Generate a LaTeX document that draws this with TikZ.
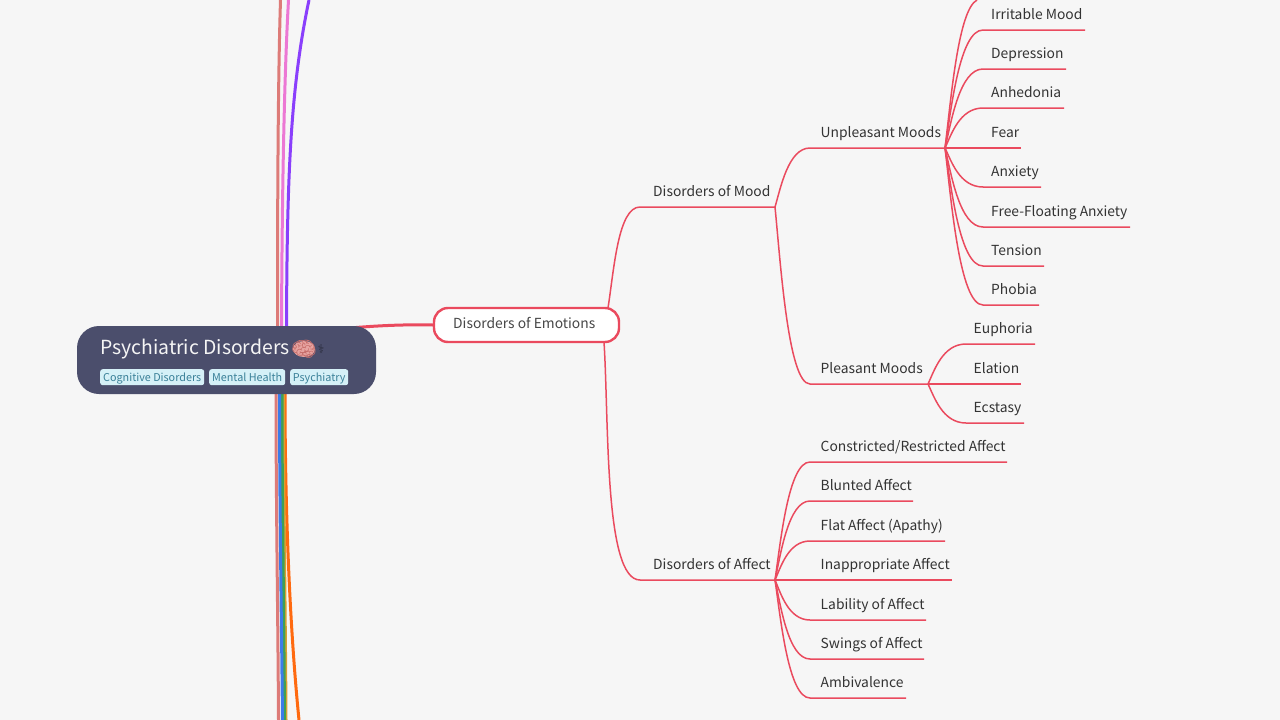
\documentclass[tikz,border=0pt]{standalone}
\usepackage{fontspec}
\setmainfont{Noto Sans CJK SC}
\newfontfamily\emojifont{Noto Emoji}
\newfontfamily\symfont{DejaVu Sans}
\usetikzlibrary{calc}
\definecolor{bgc}{HTML}{F6F6F6}
\definecolor{redc}{HTML}{EA4A5E}
\definecolor{rootc}{HTML}{4B4E6C}
\definecolor{tagfill}{HTML}{D5F0F7}
\definecolor{tagtext}{HTML}{3A8098}
\definecolor{txt}{HTML}{333333}
\definecolor{salmonc}{HTML}{DD7B78}
\definecolor{pinkc}{HTML}{EC78D4}
\definecolor{purplec}{HTML}{8A3FFC}
\definecolor{bluec}{HTML}{3D7BE8}
\definecolor{greenc}{HTML}{3FA055}
\definecolor{goldc}{HTML}{D9A030}
\definecolor{orangec}{HTML}{FF6A10}
\tikzset{
  x=1pt,y=-1pt,
  leafbox/.style={anchor=base west,inner sep=0pt,text=txt,font=\fontsize{13.85}{16}\selectfont},
  branchline/.style={draw=redc,line width=1.5pt},
  bgline/.style={line width=3pt,line cap=butt},
  tagbox/.style={fill=tagfill,rounded corners=2.5pt,anchor=north west,inner sep=0pt,text=tagtext,font=\fontsize{10.8}{13}\selectfont,minimum height=16pt,text height=9.5pt,text depth=1.5pt,align=center},
}
% \leaf{name}{parent coordinate}{line start x}{text x}{line end x}{line y}{text}
\newcommand{\leaf}[7]{%
  \node[leafbox] (#1) at (#4,#6-10.2) {#7};
  \coordinate (#1s) at (#3,#6);
  \coordinate (#1e) at (#5,#6);
  \draw[branchline] let \p1=(#2), \p2=(#1s) in
    (#2) .. controls ({\x1+0.16*(\x2-\x1)},{\y1+0.32*(\y2-\y1)}) and ({\x1+0.38*(\x2-\x1)},{\y2}) .. (#1s) -- (#1e);
}
\begin{document}
\begin{tikzpicture}
\useasboundingbox[fill=bgc] (0,0) rectangle (1280,720);

% connector ends running off the picture
\coordinate (salmonT) at (280.5,0);
\coordinate (pinkT) at (288.5,0);
\coordinate (purpleT) at (309,0);
\coordinate (salmonB) at (278.5,720);
\coordinate (blueB) at (282.5,720);
\coordinate (greenB) at (284.5,720);
\coordinate (goldB) at (286,720);
\coordinate (orangeB) at (299,720);

\draw[bgline,salmonc] (277.5,330) .. controls (277.5,200) and (278,80) .. (salmonT);
\draw[bgline,pinkc] (281.5,330) .. controls (282,200) and (284,80) .. (pinkT);
\draw[bgline,purplec] (286.5,330) .. controls (287,180) and (290,90) .. (purpleT);
\draw[bgline,orangec] (285,392) .. controls (285,500) and (289,620) .. (orangeB);
\draw[bgline,goldc] (283.5,392) .. controls (283.5,500) and (285.5,620) .. (goldB);
\draw[bgline,greenc] (282,392) .. controls (282,500) and (284,620) .. (greenB);
\draw[bgline,bluec] (279.5,392) .. controls (279.5,500) and (281.5,620) .. (blueB);
\draw[bgline,salmonc] (276,392) .. controls (276,500) and (278,620) .. (salmonB);

% main connector, under the root
\coordinate (rootEdge) at (350,328);
\node[draw=redc,line width=2.4pt,fill=white,rounded corners=14pt,minimum width=185pt,minimum height=34pt,inner sep=0pt] (emo) at (526.5,325) {};
\node[anchor=west,inner sep=0pt,text=txt!90,font=\fontsize{13.85}{16}\selectfont] (emotext) at (453,323) {Disorders of Emotions};
\draw[redc,line width=3pt] (rootEdge) .. controls (385,325) and (410,324.5) .. (emo.west);

% root
\node[fill=rootc,rounded corners=22pt,minimum width=299pt,minimum height=68pt,inner sep=0pt] (root) at (226.5,360) {};
\node[anchor=base west,inner sep=0pt,text=white!96!black,font=\fontsize{19.4}{24}\selectfont] (title) at (100,354) {Psychiatric Disorders};
\fill[salmonc!70!white] (304,349) ellipse (11pt and 8pt);
\node[inner sep=0pt,text=salmonc!90!black,font=\emojifont\fontsize{21}{24}\selectfont] (brain) at (304,349) {🧠};
\node[inner sep=0pt,text=rootc!55!black,font=\symfont\fontsize{12}{15}\selectfont] (staff) at (321,349) {⚕};
\node[tagbox,minimum width=104pt] (tag1) at (100,369) {Cognitive Disorders};
\node[tagbox,minimum width=76pt] (tag2) at (209,369) {Mental Health};
\node[tagbox,minimum width=58pt] (tag3) at (290,369) {Psychiatry};

% forks
\coordinate (emoUp) at (608,308);
\coordinate (emoDown) at (604,342);
\draw[branchline] (emoUp) .. controls (614,270) and (618,207) .. (640,207) coordinate (moodS) -- (775,207) coordinate (moodF);
\draw[branchline] (emoDown) .. controls (609,420) and (604,580) .. (640,580) coordinate (affS) -- (775,580) coordinate (affF);
\node[leafbox] (mood) at (653,196.8) {Disorders of Mood};
\node[leafbox] (aff) at (653,569.8) {Disorders of Affect};

\leaf{unp}{moodF}{810}{820.5}{945}{148}{Unpleasant Moods}
\leaf{ple}{moodF}{810}{820.5}{928}{384}{Pleasant Moods}
\coordinate (unpF) at (945,148);
\coordinate (pleF) at (928,384);

\coordinate (topEnd) at (977,0);
\draw[branchline] (unpF) .. controls (951,100) and (958,10) .. (topEnd);
\leaf{irr}{unpF}{983}{991}{1085}{30}{Irritable Mood}
\leaf{dep}{unpF}{983}{991}{1066}{69}{Depression}
\leaf{anh}{unpF}{983}{991}{1064}{108}{Anhedonia}
\leaf{fear}{unpF}{983}{991}{1021}{148}{Fear}
\leaf{anx}{unpF}{983}{991}{1041}{187}{Anxiety}
\leaf{free}{unpF}{983}{991}{1130}{227}{Free-Floating Anxiety}
\leaf{ten}{unpF}{983}{991}{1044}{266}{Tension}
\leaf{pho}{unpF}{983}{991}{1039}{305}{Phobia}

\leaf{eup}{pleF}{966}{973.5}{1035}{344}{Euphoria}
\leaf{ela}{pleF}{966}{973.5}{1021}{384}{Elation}
\leaf{ecs}{pleF}{966}{973.5}{1024}{423}{Ecstasy}

\leaf{con}{affF}{810}{820.5}{1007}{462}{Constricted/Restricted Affect}
\leaf{blu}{affF}{810}{820.5}{913}{501}{Blunted Affect}
\leaf{fla}{affF}{810}{820.5}{945}{541}{Flat Affect (Apathy)}
\leaf{ina}{affF}{810}{820.5}{952}{580}{Inappropriate Affect}
\leaf{lab}{affF}{810}{820.5}{926}{620}{Lability of Affect}
\leaf{swi}{affF}{810}{820.5}{924}{659}{Swings of Affect}
\leaf{amb}{affF}{810}{820.5}{906}{698}{Ambivalence}
\end{tikzpicture}
\end{document}
